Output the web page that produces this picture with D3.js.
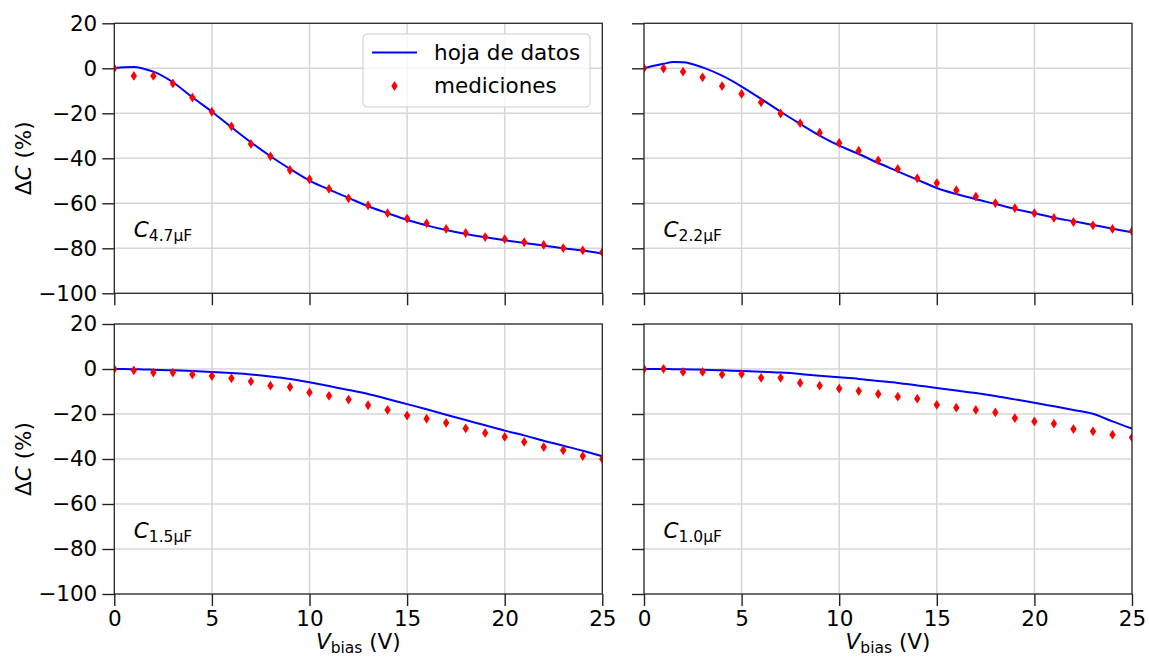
<!DOCTYPE html>
<html>
<head>
<meta charset="utf-8">
<script src="https://cdn.jsdelivr.net/npm/d3@7"></script>
<style>
  body { margin: 0; background: #fff; }
  text { font-family: "DejaVu Sans", sans-serif; fill: #000; }
</style>
</head>
<body>
<svg id="chart" width="1149" height="657"></svg>
<script>
// bias voltage for measured points (V)
var vMeas = d3.range(0, 26);
// bias voltage for datasheet curves (V)
var vSheet = [0, 0.5, 1, 1.5, 2, 3, 4, 5, 6, 7, 8, 9, 10, 11, 12, 13, 14, 15, 16, 17, 18, 19, 20, 21, 22, 23, 24, 25];

var sheet47 = [0, 0.5, 0.6, -0.2, -1.5, -6.2, -12.9, -19.3, -26.2, -32.9, -39.1, -44.7, -49.9, -53.9, -57.6, -61.3, -64.4, -67.4, -69.8, -71.9, -73.6, -75.1, -76.4, -77.6, -78.8, -80.0, -81.0, -82.4];
var meas47 = [0, -3.4, -3.4, -6.7, -13.0, -19.3, -25.8, -33.6, -39.1, -45.2, -49.3, -53.6, -57.8, -60.9, -64.4, -66.8, -68.9, -71.4, -73.2, -75.0, -75.9, -77.3, -78.5, -79.9, -80.9, -81.8];

var sheet22 = [0, 1.1, 2.0, 2.8, 2.7, 0.4, -3.3, -8.1, -13.6, -19.3, -24.7, -29.9, -34.4, -38.1, -42.1, -45.8, -49.5, -53.2, -55.9, -58.2, -60.3, -62.5, -64.4, -66.4, -68.0, -69.6, -71.3, -72.9];
var meas22 = [0, -0.1, -1.5, -4.0, -7.9, -11.4, -15.1, -20.1, -24.4, -28.6, -33.2, -36.6, -40.9, -44.7, -48.9, -51.0, -54.2, -57.0, -59.9, -62.1, -64.4, -66.5, -68.3, -69.8, -71.4, -72.4];

var sheet15 = [0, 0, -0.1, -0.2, -0.3, -0.6, -0.9, -1.3, -1.8, -2.4, -3.3, -4.4, -5.9, -7.6, -9.3, -11.1, -13.3, -15.6, -17.9, -20.3, -22.7, -25.0, -27.4, -29.5, -31.9, -34.1, -36.3, -38.8];
var meas15 = [0, -0.6, -1.6, -1.6, -2.4, -3.1, -4.1, -5.5, -7.4, -8.0, -10.4, -11.9, -13.6, -16.1, -18.2, -20.7, -22.1, -23.9, -26.4, -28.4, -30.2, -32.4, -34.7, -36.1, -38.7, -40.0];

var sheet10 = [0, 0, 0, -0.1, -0.1, -0.3, -0.6, -0.9, -1.2, -1.6, -2.2, -3.0, -3.7, -4.4, -5.3, -6.2, -7.3, -8.4, -9.6, -10.7, -12.0, -13.5, -15.0, -16.6, -18.2, -19.9, -23.3, -26.5];
var meas10 = [0, 0.1, -1.3, -1.3, -2.4, -2.2, -3.9, -3.9, -6.2, -7.4, -8.7, -9.8, -11.1, -12.3, -13.2, -15.9, -17.2, -18.2, -19.3, -21.8, -23.3, -24.3, -26.7, -27.7, -29.2, -30.4];

var xTicks = [0, 5, 10, 15, 20, 25];
var yTicks = [20, 0, -20, -40, -60, -80, -100];
var panelNames = ["4.7\u00b5F", "2.2\u00b5F", "1.5\u00b5F", "1.0\u00b5F"];
var legendLabels = ["hoja de datos", "mediciones"];

var panels = [
  {name: panelNames[0], sheet: sheet47, meas: meas47, col: 0, row: 0},
  {name: panelNames[1], sheet: sheet22, meas: meas22, col: 1, row: 0},
  {name: panelNames[2], sheet: sheet15, meas: meas15, col: 0, row: 1},
  {name: panelNames[3], sheet: sheet10, meas: meas10, col: 1, row: 1}
];

var svg = d3.select("#chart");
var colX = [114.3, 644];
var rowY = [23.3, 324];
var pw = 488, ph = 270;
var fs = "21.5px";

var x = d3.scaleLinear().domain([0, 25]).range([0, pw]);
var y = d3.scaleLinear().domain([-100, 20]).range([ph, 0]);

var diamond = "M0,-4.9L3.2,0L0,4.9L-3.2,0Z";

panels.forEach(function (p, i) {
    var g = svg.append("g")
        .attr("transform", "translate(" + colX[p.col] + "," + rowY[p.row] + ")");

    g.append("clipPath").attr("id", "clip" + i)
        .append("rect").attr("width", pw).attr("height", ph);

    // grid
    g.append("g").selectAll("line").data(xTicks).enter().append("line")
        .attr("x1", x).attr("x2", x).attr("y1", 0).attr("y2", ph)
        .attr("stroke", "#d6d6d6").attr("stroke-width", 1.5);
    g.append("g").selectAll("line").data(yTicks).enter().append("line")
        .attr("y1", y).attr("y2", y).attr("x1", 0).attr("x2", pw)
        .attr("stroke", "#d6d6d6").attr("stroke-width", 1.5);

    var plot = g.append("g").attr("clip-path", "url(#clip" + i + ")");

    var line = d3.line()
        .x(function (d, j) { return x(vSheet[j]); })
        .y(function (d) { return y(d); })
        .curve(d3.curveMonotoneX);

    plot.append("path").datum(p.sheet)
        .attr("d", line)
        .attr("fill", "none")
        .attr("stroke", "#0000ff")
        .attr("stroke-width", 2);

    plot.append("g").selectAll("path").data(p.meas).enter().append("path")
        .attr("d", diamond)
        .attr("transform", function (d, j) {
            return "translate(" + x(vMeas[j]) + "," + y(d) + ")";
        })
        .attr("fill", "#ff0000");

    // axes
    var xa = g.append("g").attr("transform", "translate(0," + ph + ")")
        .call(d3.axisBottom(x).tickValues(xTicks).tickSize(12).tickPadding(5)
            .tickFormat(p.row === 1 ? d3.format("d") : ""));
    var ya = g.append("g")
        .call(d3.axisLeft(y).tickValues(yTicks).tickSize(12).tickPadding(5)
            .tickFormat(p.col === 0 ? function (d) { return d < 0 ? "\u2212" + (-d) : d; } : ""));
    [xa, ya].forEach(function (a) {
        a.select(".domain").remove();
        a.selectAll(".tick line").attr("stroke", "#222").attr("stroke-width", 1.4);
        a.selectAll(".tick text").style("font-size", fs).style("font-family", "DejaVu Sans");
    });

    // frame
    g.append("rect").attr("width", pw).attr("height", ph)
        .attr("fill", "none").attr("stroke", "#222").attr("stroke-width", 1.2);

    // panel label
    var lab = g.append("text")
        .attr("x", x(1)).attr("y", y(-75))
        .style("font-size", fs);
    lab.append("tspan").style("font-style", "italic").text("C");
    lab.append("tspan").attr("dy", 4).style("font-size", "15.5px").text(p.name);

    if (p.col === 0) {
        var yl = g.append("text")
            .attr("transform", "translate(" + (-83) + "," + (ph / 2) + ") rotate(-90)")
            .attr("text-anchor", "middle")
            .style("font-size", fs);
        yl.append("tspan").text("\u0394");
        yl.append("tspan").style("font-style", "italic").text("C");
        yl.append("tspan").text(" (%)");
    }

    if (p.row === 1) {
        var xl = g.append("text")
            .attr("x", pw / 2).attr("y", ph + 55)
            .attr("text-anchor", "middle")
            .style("font-size", fs);
        xl.append("tspan").style("font-style", "italic").text("V");
        xl.append("tspan").attr("dy", 4).style("font-size", "15.5px").text("bias");
        xl.append("tspan").attr("dy", -4).text(" (V)");
    }

    if (i === 0) {
        var lg = g.append("g").attr("transform", "translate(" + (363 - colX[0]) + "," + (34 - rowY[0]) + ")");
        lg.append("rect").attr("width", 227).attr("height", 73).attr("rx", 4)
            .attr("fill", "#fff").attr("fill-opacity", 0.8)
            .attr("stroke", "#cccccc").attr("stroke-width", 1);
        lg.append("line").attr("x1", 9).attr("x2", 54).attr("y1", 18.5).attr("y2", 18.5)
            .attr("stroke", "#0000ff").attr("stroke-width", 2);
        lg.append("path").attr("d", diamond)
            .attr("transform", "translate(31.5,52)").attr("fill", "#ff0000");
        lg.selectAll("text.leg").data(legendLabels).enter().append("text")
            .attr("class", "leg")
            .attr("x", 71).attr("y", function (d, j) { return 26 + j * 33; })
            .style("font-size", fs)
            .text(function (d) { return d; });
    }
});
</script>
</body>
</html>
